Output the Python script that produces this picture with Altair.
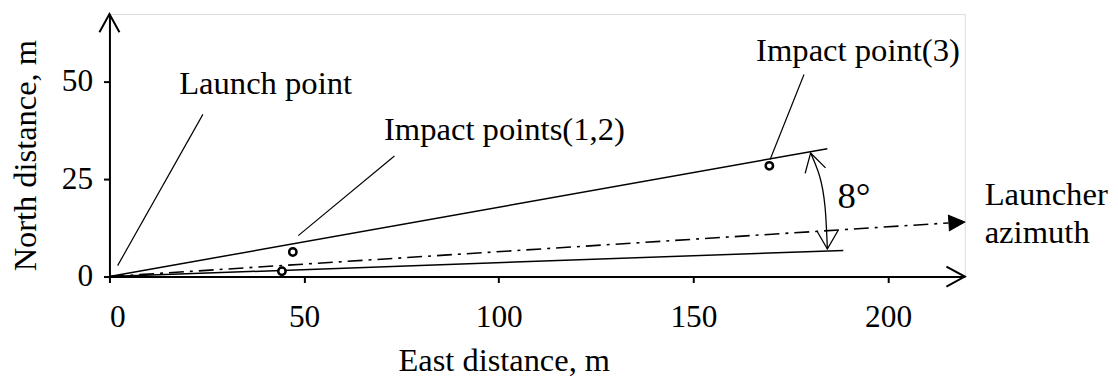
import altair as alt
import pandas as pd

FONT = "'Times New Roman', 'Liberation Serif', 'DejaVu Serif', serif"

# ---- data ----
x_ticks = [0, 50, 100, 150, 200]
y_ticks = [0, 25, 50]
x_max = 219.7
y_max = 67.35

impact_x = [44.3, 47.1, 169.5]
impact_y = [1.35, 6.3, 28.4]

bound_id = ["upper", "upper", "lower", "lower"]
bound_x = [0, 184.4, 0, 188.5]
bound_y = [0, 32.8, 0, 6.7]

azimuth_x = [0, 215.5]
azimuth_y = [0, 13.75]

arc_x = [180.1, 182.4, 183.8, 184.4]
arc_y = [31.7, 25.8, 17.9, 7.07]

leader_id = ["launch", "launch", "imp12", "imp12", "imp3", "imp3"]
leader_x = [2.1, 24.0, 48.5, 73.2, 169.7, 178.4]
leader_y = [2.8, 41.6, 10.5, 30.9, 30.0, 51.8]

label_text = ["Launch point", "Impact points(1,2)", "Impact point(3)", "Launcher", "azimuth"]
label_x = [17.9, 70.5, 166.1, 224.8, 224.8]
label_y = [46.9, 34.9, 55.4, 18.4, 8.6]

angle_text = ["8°"]
angle_x = [187.0]
angle_y = [17.6]

# arrow heads: tip position and rotation
axis_arrow_x = [x_max, 0]
axis_arrow_y = [0, y_max]
axis_arrow_a = [90, 0]

arc_arrow_x = [180.1, 184.4]
arc_arrow_y = [31.7, 7.07]
arc_arrow_a = [345, 180]

az_arrow_x = [219.7]
az_arrow_y = [14.0]
az_arrow_a = [86.3]

# ---- encodings ----
xs = alt.Scale(domain=[0, x_max], nice=False, zero=False)
ys = alt.Scale(domain=[0, y_max], nice=False, zero=False)

x_axis = alt.Axis(values=x_ticks, title="East distance, m", grid=False,
                  domainWidth=2, domainColor="black", tickWidth=2, tickColor="black",
                  tickSize=6, labelFont=FONT, labelFontSize=31.5, labelColor="black",
                  labelPadding=19, titleFont=FONT, titleFontSize=32.6,
                  titleFontWeight="normal", titleColor="black",
                  titleX=396.5, titleY=94.5, titleBaseline="alphabetic", titleAlign="center")
y_axis = alt.Axis(values=y_ticks, title="North distance, m", grid=False,
                  domainWidth=2, domainColor="black", tickWidth=2, tickColor="black",
                  tickSize=6, labelFont=FONT, labelFontSize=31.5, labelColor="black",
                  labelPadding=11, titleFont=FONT, titleFontSize=32.6,
                  titleFontWeight="normal", titleColor="black",
                  titleX=-74, titleY=142, titleBaseline="alphabetic", titleAlign="center",
                  titleAngle=270)

X = alt.X("x:Q", scale=xs, axis=x_axis)
Y = alt.Y("y:Q", scale=ys, axis=y_axis)

bounds = alt.Chart(pd.DataFrame({"id": bound_id, "x": bound_x, "y": bound_y,
                                 "i": [0, 1, 0, 1]})).mark_line(
    color="black", strokeWidth=1.5).encode(x=X, y=Y, detail="id:N", order="i:Q")

azimuth = alt.Chart(pd.DataFrame({"x": azimuth_x, "y": azimuth_y})).mark_line(
    color="black", strokeWidth=1.6, strokeDash=[15, 6, 3, 6]).encode(x="x:Q", y="y:Q")

arc = alt.Chart(pd.DataFrame({"x": arc_x, "y": arc_y, "i": list(range(len(arc_x)))})).mark_line(
    color="black", strokeWidth=1.3, interpolate="natural").encode(x="x:Q", y="y:Q", order="i:Q")

leaders = alt.Chart(pd.DataFrame({"id": leader_id, "x": leader_x, "y": leader_y,
                                  "i": [0, 1, 0, 1, 0, 1]})).mark_line(
    color="black", strokeWidth=1.2).encode(x="x:Q", y="y:Q", detail="id:N", order="i:Q")

chevron = "M-0.48,0.88L0,0L0.48,0.88"
axis_arrows = alt.Chart(pd.DataFrame({"x": axis_arrow_x, "y": axis_arrow_y,
                                      "a": axis_arrow_a})).mark_point(
    shape=chevron, filled=False, size=1760, stroke="black", strokeWidth=2, opacity=1,
    clip=False).encode(x="x:Q", y="y:Q", angle=alt.Angle("a:Q", scale=None))

arc_arrows = alt.Chart(pd.DataFrame({"x": arc_arrow_x, "y": arc_arrow_y,
                                     "a": arc_arrow_a})).mark_point(
    shape="M-0.5,0.866L0,0L0.5,0.866", filled=False, size=1800, stroke="black",
    strokeWidth=1.3, opacity=1, clip=False).encode(
    x="x:Q", y="y:Q", angle=alt.Angle("a:Q", scale=None))

az_arrow = alt.Chart(pd.DataFrame({"x": az_arrow_x, "y": az_arrow_y,
                                   "a": az_arrow_a})).mark_point(
    shape="M0,0L-0.49,1L0.49,1Z", filled=True, size=1024, fill="black", stroke="black",
    strokeWidth=1, opacity=1, clip=False).encode(
    x="x:Q", y="y:Q", angle=alt.Angle("a:Q", scale=None))

points = alt.Chart(pd.DataFrame({"x": impact_x, "y": impact_y})).mark_point(
    shape="circle", filled=True, fill="white", stroke="black", strokeWidth=2.5,
    size=55, opacity=1).encode(x="x:Q", y="y:Q")

labels = alt.Chart(pd.DataFrame({"t": label_text, "x": label_x, "y": label_y})).mark_text(
    align="left", baseline="alphabetic", font=FONT, fontSize=32.8, color="black").encode(
    x="x:Q", y="y:Q", text="t:N")

angle_lbl = alt.Chart(pd.DataFrame({"t": angle_text, "x": angle_x, "y": angle_y})).mark_text(
    align="left", baseline="alphabetic", font=FONT, fontSize=37, color="black").encode(
    x="x:Q", y="y:Q", text="t:N")

chart = alt.layer(bounds, azimuth, arc, leaders, axis_arrows, arc_arrows, az_arrow,
                  points, labels, angle_lbl).properties(
    width=860, height=264,
    autosize=alt.AutoSizeParams(type="none"),
    padding={"left": 102, "top": 5, "right": 146, "bottom": 100},
).configure_view(strokeWidth=0).configure(background="white")

chart.save("out.html", embed_options={"renderer": "svg", "actions": False})
